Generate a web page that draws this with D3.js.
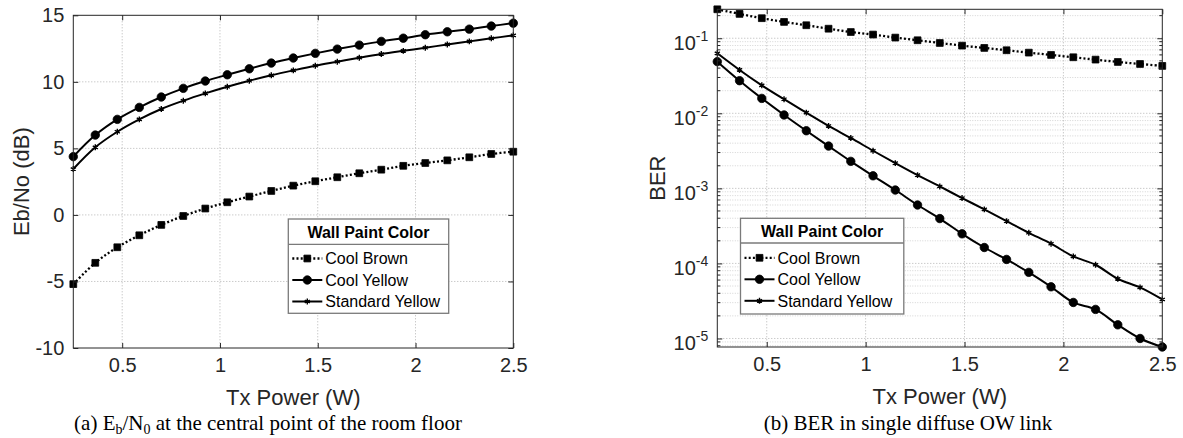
<!DOCTYPE html>
<html>
<head>
<meta charset="utf-8">
<script src="https://cdn.jsdelivr.net/npm/d3@7"></script>
<style>
  body { margin: 0; background: #fff; }
  svg { display: block; }
</style>
</head>
<body>
<div id="chart"></div>
<script>

// Tx power samples (W), shared by both panels
var txPower = [0.25, 0.3625, 0.475, 0.5875, 0.7, 0.8125, 0.925, 1.0375, 1.15, 1.2625, 1.375,
               1.4875, 1.6, 1.7125, 1.825, 1.9375, 2.05, 2.1625, 2.275, 2.3875, 2.5];

var seriesNames = ["Cool Brown", "Cool Yellow", "Standard Yellow"];
var legendTitle = "Wall Paint Color";

// (a) Eb/No in dB
var ebnoCoolBrown = [-5.2, -3.6, -2.43, -1.53, -0.75, -0.08, 0.48, 0.95, 1.38, 1.8, 2.2,
                     2.53, 2.83, 3.13, 3.4, 3.69, 3.9, 4.1, 4.33, 4.58, 4.75];
var ebnoCoolYellow = [4.38, 6.0, 7.18, 8.08, 8.86, 9.51, 10.06, 10.53, 10.98, 11.41, 11.79,
                      12.14, 12.46, 12.76, 13.04, 13.28, 13.54, 13.76, 13.96, 14.19, 14.41];
var ebnoStdYellow = [3.45, 5.08, 6.25, 7.18, 7.96, 8.58, 9.13, 9.63, 10.08, 10.49, 10.86,
                     11.21, 11.51, 11.81, 12.09, 12.33, 12.56, 12.81, 13.04, 13.27, 13.49];

// (b) BER
var berCoolBrown = [0.243, 0.211, 0.185, 0.165, 0.149, 0.134, 0.121, 0.112, 0.102, 0.094, 0.0865,
                    0.0797, 0.0743, 0.0692, 0.0643, 0.0599, 0.0558, 0.0519, 0.0483, 0.0454, 0.0428];
var berCoolYellow = [0.0488, 0.0272, 0.0158, 0.0095, 0.00586, 0.00366, 0.00229, 0.00147, 0.00095, 0.0006, 0.000396,
                     0.000248, 0.000163, 0.000113, 7.6e-5, 4.88e-5, 3.02e-5, 2.44e-5, 1.52e-5, 1.0e-5, 7.7e-6];
var berStdYellow = [0.063, 0.0378, 0.0236, 0.0154, 0.0102, 0.00678, 0.00469, 0.00317, 0.00217, 0.0015, 0.00106,
                    0.000743, 0.000525, 0.000366, 0.000256, 0.000183, 0.000124, 9.6e-5, 6.24e-5, 4.79e-5, 3.31e-5];

// tick labels
var powerTicks = [0.5, 1, 1.5, 2, 2.5];
var ebnoTicks = [-10, -5, 0, 5, 10, 15];
var berMajorTicks = [1e-5, 1e-4, 1e-3, 1e-2, 1e-1];
var berExponents = [-5, -4, -3, -2, -1];

var captionA = ["(a) E", "b", "/N", "0", " at the central point of the room floor"];
var captionB = "(b) BER in single diffuse OW link";

var width = 1183;
var height = 438;
var axisColor = "#262626";
var sans = "'Liberation Sans', Arial, Helvetica, sans-serif";
var serif = "'Liberation Serif', 'Times New Roman', Times, serif";

var starSymbol = d3.symbolAsterisk || d3.symbolCross;
var styles = [
    {dash: "2,2.2", symbol: d3.symbolSquare, size: 46, filled: true},
    {dash: null, symbol: d3.symbolCircle, size: 56, filled: true},
    {dash: null, symbol: starSymbol, size: 24, filled: false}
];

// Create the SVG container.
var svg = d3.select("#chart").append("svg")
    .attr("width", width)
    .attr("height", height)
    .style("font-family", sans);

function drawMarker(g, style, cx, cy) {
    g.append("path")
        .attr("transform", `translate(${cx},${cy})`)
        .attr("d", d3.symbol().type(style.symbol).size(style.size)())
        .attr("fill", style.filled ? "#000" : "none")
        .attr("stroke", "#000")
        .attr("stroke-width", style.filled ? 0.8 : 1.4);
}

function drawSeries(g, x, y, values, style) {
    var pts = txPower.map((p, i) => [x(p), y(values[i])]);
    g.append("path")
        .attr("d", d3.line().curve(d3.curveCatmullRom.alpha(0.5))(pts))
        .attr("fill", "none")
        .attr("stroke", "#000")
        .attr("stroke-width", style.dash ? 2.3 : 2)
        .attr("stroke-dasharray", style.dash);
    pts.forEach(p => drawMarker(g, style, p[0], p[1]));
}

function drawLegend(g, lx, ly, lw, lh, sep) {
    var lg = g.append("g").attr("transform", `translate(${lx},${ly})`);
    lg.append("rect")
        .attr("width", lw).attr("height", lh)
        .attr("fill", "#fff").attr("stroke", "#7a7a7a").attr("stroke-width", 1.3);
    lg.append("line")
        .attr("x1", 0).attr("x2", lw).attr("y1", sep).attr("y2", sep)
        .attr("stroke", "#7a7a7a").attr("stroke-width", 1.3);
    lg.append("text")
        .attr("x", lw / 2).attr("y", 19)
        .attr("text-anchor", "middle")
        .attr("font-size", 16).attr("font-weight", "bold")
        .attr("fill", "#000")
        .text(legendTitle);
    var rowY = [39.5, 61, 82.5];
    seriesNames.forEach(function(name, i) {
        var st = styles[i];
        lg.append("line")
            .attr("x1", 4).attr("x2", 34).attr("y1", rowY[i]).attr("y2", rowY[i])
            .attr("stroke", "#000")
            .attr("stroke-width", st.dash ? 2.3 : 2)
            .attr("stroke-dasharray", st.dash);
        drawMarker(lg, st, 19, rowY[i]);
        lg.append("text")
            .attr("x", 37).attr("y", rowY[i]).attr("dy", "0.36em")
            .attr("font-size", 16).attr("fill", "#000")
            .text(name);
    });
}

function drawFrame(g, x, y, w, h, yMajor, yMinor) {
    // bottom axis with inward ticks
    var gx = g.append("g")
        .attr("transform", `translate(0,${h})`)
        .call(d3.axisBottom(x).tickValues(powerTicks).tickSizeInner(-5).tickSizeOuter(0)
            .tickPadding(10).tickFormat(d => String(d)));
    gx.select(".domain").remove();
    gx.attr("color", axisColor).attr("font-size", 20).attr("font-family", sans);

    // mirrored ticks on top and right
    var gt = g.append("g")
        .call(d3.axisTop(x).tickValues(powerTicks).tickSizeInner(-5).tickSizeOuter(0).tickFormat(""));
    gt.select(".domain").remove();
    gt.attr("color", axisColor);

    var gr = g.append("g")
        .attr("transform", `translate(${w},0)`)
        .call(d3.axisRight(y).tickValues(yMajor).tickSizeInner(-5).tickSizeOuter(0).tickFormat(""));
    gr.select(".domain").remove();
    gr.attr("color", axisColor);

    // minor y ticks (log panel only)
    yMinor.forEach(function(v) {
        g.append("line").attr("x1", 0).attr("x2", 3).attr("y1", y(v)).attr("y2", y(v))
            .attr("stroke", axisColor);
        g.append("line").attr("x1", w - 3).attr("x2", w).attr("y1", y(v)).attr("y2", y(v))
            .attr("stroke", axisColor);
    });

    g.append("rect")
        .attr("width", w).attr("height", h)
        .attr("fill", "none").attr("stroke", axisColor).attr("stroke-width", 1);
}

function drawGrid(g, x, y, w, h, yMajor, yMinor) {
    yMinor.forEach(function(v) {
        g.append("line").attr("x1", 0).attr("x2", w).attr("y1", y(v)).attr("y2", y(v))
            .attr("stroke", "#d4d4d4").attr("stroke-dasharray", "1,1.5");
    });
    powerTicks.filter(v => v < 2.5).forEach(function(v) {
        g.append("line").attr("x1", x(v)).attr("x2", x(v)).attr("y1", 0).attr("y2", h)
            .attr("stroke", "#b4b4b4").attr("stroke-dasharray", "1,2");
    });
    yMajor.forEach(function(v) {
        g.append("line").attr("x1", 0).attr("x2", w).attr("y1", y(v)).attr("y2", y(v))
            .attr("stroke", "#b4b4b4").attr("stroke-dasharray", "1,2");
    });
}

// ---------- (a) Eb/No ----------
var aLeft = 73.3, aTop = 15.3, aW = 440, aH = 332.7;
var ga = svg.append("g").attr("transform", `translate(${aLeft},${aTop})`);

var xa = d3.scaleLinear().domain([0.25, 2.5]).range([0, aW]);
var ya = d3.scaleLinear().domain([-10, 15]).range([aH, 0]);

drawGrid(ga, xa, ya, aW, aH, ebnoTicks.filter(v => v > -10 && v < 15), []);
drawSeries(ga, xa, ya, ebnoCoolBrown, styles[0]);
drawSeries(ga, xa, ya, ebnoCoolYellow, styles[1]);
drawSeries(ga, xa, ya, ebnoStdYellow, styles[2]);
drawLegend(ga, 215, 203.7, 160.4, 94.3, 25.3);
drawFrame(ga, xa, ya, aW, aH, ebnoTicks, []);

// y axis labels (a)
var gya = ga.append("g")
    .call(d3.axisLeft(ya).tickValues(ebnoTicks).tickSizeInner(-5).tickSizeOuter(0)
        .tickPadding(9).tickFormat(d => String(d)));
gya.select(".domain").remove();
gya.attr("color", axisColor).attr("font-size", 20).attr("font-family", sans);

ga.append("text")
    .attr("x", aW / 2).attr("y", 390)
    .attr("text-anchor", "middle").attr("font-size", 22).attr("fill", axisColor)
    .text("Tx Power (W)");
ga.append("text")
    .attr("transform", `translate(${28.7 - aLeft},${aH / 2}) rotate(-90)`)
    .attr("text-anchor", "middle").attr("font-size", 22).attr("fill", axisColor)
    .text("Eb/No (dB)");

// caption (a) with subscripts
var capA = svg.append("text")
    .attr("x", 268).attr("y", 430)
    .attr("text-anchor", "middle")
    .attr("font-family", serif).attr("font-size", 21).attr("fill", "#000");
capA.append("tspan").text(captionA[0]);
capA.append("tspan").attr("font-size", 14).attr("dy", 4).text(captionA[1]);
capA.append("tspan").attr("dy", -4).text(captionA[2]);
capA.append("tspan").attr("font-size", 14).attr("dy", 4).text(captionA[3]);
capA.append("tspan").attr("dy", -4).text(captionA[4]);

// ---------- (b) BER ----------
var bLeft = 717.3, bTop = 9.3, bW = 445, bH = 337.7;
var gb = svg.append("g").attr("transform", `translate(${bLeft},${bTop})`);

var allBer = berCoolBrown.concat(berCoolYellow, berStdYellow);
var xb = d3.scaleLinear().domain([0.25, 2.5]).range([0, bW]);
var yb = d3.scaleLog().domain([d3.min(allBer), d3.max(allBer)]).range([bH, 0]);

var berMinor = [];
berMajorTicks.concat([1e-6]).forEach(function(dec) {
    for (var m = 2; m <= 9; m++) {
        var v = m * dec;
        if (v > yb.domain()[0] && v < yb.domain()[1]) berMinor.push(v);
    }
});

drawGrid(gb, xb, yb, bW, bH, berMajorTicks, berMinor);
drawSeries(gb, xb, yb, berCoolBrown, styles[0]);
drawSeries(gb, xb, yb, berCoolYellow, styles[1]);
drawSeries(gb, xb, yb, berStdYellow, styles[2]);
drawLegend(gb, 23.2, 209, 163.3, 95.7, 24.7);
drawFrame(gb, xb, yb, bW, bH, berMajorTicks, berMinor);

// left axis of (b): ticks plus 10^k labels
var gyb = gb.append("g")
    .call(d3.axisLeft(yb).tickValues(berMajorTicks).tickSizeInner(-5).tickSizeOuter(0).tickFormat(""));
gyb.select(".domain").remove();
gyb.attr("color", axisColor);
berMajorTicks.forEach(function(v, i) {
    var t = gb.append("text")
        .attr("x", -9).attr("y", yb(v) + 11.5)
        .attr("text-anchor", "end").attr("font-size", 20).attr("fill", axisColor);
    t.append("tspan").text("10");
    t.append("tspan").attr("font-size", 14).attr("dy", -9).text(String(berExponents[i]));
});

gb.append("text")
    .attr("x", bW / 2).attr("y", 395)
    .attr("text-anchor", "middle").attr("font-size", 22).attr("fill", axisColor)
    .text("Tx Power (W)");
gb.append("text")
    .attr("transform", `translate(${665 - bLeft},${bH / 2}) rotate(-90)`)
    .attr("text-anchor", "middle").attr("font-size", 22).attr("fill", axisColor)
    .text("BER");

svg.append("text")
    .attr("x", 908).attr("y", 430)
    .attr("text-anchor", "middle")
    .attr("font-family", serif).attr("font-size", 21).attr("fill", "#000")
    .text(captionB);

</script>
</body>
</html>
